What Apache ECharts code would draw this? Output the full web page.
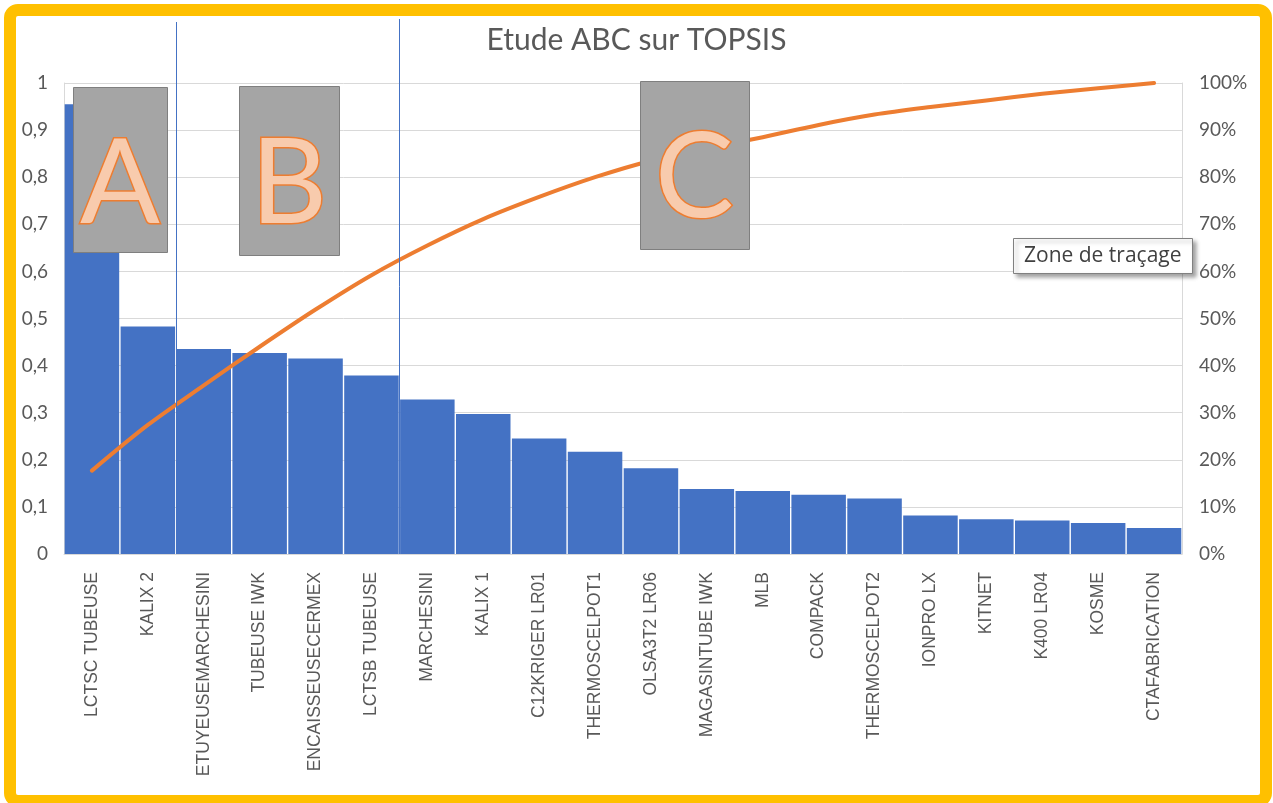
<!DOCTYPE html>
<html>
<head>
<meta charset="utf-8">
<script src="https://cdn.jsdelivr.net/npm/echarts@6/dist/echarts.min.js"></script>
<style>
  html, body { margin: 0; padding: 0; background: #ffffff; }
  #chart { width: 1273px; height: 803px; }
</style>
</head>
<body>
<div id="chart"></div>
<script>
// Equipment ranked by TOPSIS score
const categories = [
  'LCTSC TUBEUSE', 'KALIX 2', 'ETUYEUSEMARCHESINI', 'TUBEUSE IWK', 'ENCAISSEUSECERMEX',
  'LCTSB TUBEUSE', 'MARCHESINI', 'KALIX 1', 'C12KRIGER LR01', 'THERMOSCELPOT1',
  'OLSA3T2 LR06', 'MAGASINTUBE IWK', 'MLB', 'COMPACK', 'THERMOSCELPOT2',
  'IONPRO LX', 'KITNET', 'K400 LR04', 'KOSME', 'CTAFABRICATION'
];

// TOPSIS score per equipment (bars, left axis)
const scores = [
  0.955, 0.483, 0.435, 0.427, 0.415,
  0.379, 0.328, 0.297, 0.245, 0.217,
  0.182, 0.138, 0.134, 0.126, 0.118,
  0.082, 0.074, 0.071, 0.066, 0.055
];

// Cumulative share of the total score, in % (line, right axis)
const cumulativePct = [
  17.7, 27.4, 35.8, 44.0, 51.9,
  59.2, 65.5, 71.1, 75.8, 80.0,
  83.5, 86.1, 88.5, 91.1, 93.3,
  94.9, 96.3, 97.7, 98.9, 100
];

// Left axis ticks 0..1, right axis ticks 0..100 %
const scoreTicks = { min: 0, max: 1, step: 0.1 };
const pctTicks = { min: 0, max: 100, step: 10 };

// Last category of zones A and B (separator drawn right after each)
const zoneEnds = ['KALIX 2', 'LCTSB TUBEUSE'];

const chart = echarts.init(document.getElementById('chart'), null, { renderer: 'canvas' });

const gray = '#595959';
const gridLine = '#d9d9d9';

const option = {
  backgroundColor: '#ffffff',
  animation: false,
  title: {
    text: 'Etude ABC sur TOPSIS',
    left: 'center',
    top: 20,
    textStyle: { fontFamily: 'Lato', fontSize: 30, fontWeight: 'normal', color: gray }
  },
  grid: { left: 64, right: 91, top: 83, bottom: 249, containLabel: false },
  xAxis: {
    type: 'category',
    data: categories,
    axisLine: { show: true, lineStyle: { color: gridLine, width: 1 } },
    axisTick: { show: false },
    axisLabel: {
      rotate: 90,
      margin: 18,
      interval: 0,
      fontFamily: 'Liberation Sans',
      fontSize: 17.5,
      color: gray
    }
  },
  yAxis: [
    {
      type: 'value',
      min: scoreTicks.min,
      max: scoreTicks.max,
      interval: scoreTicks.step,
      axisLine: { show: true, lineStyle: { color: gridLine } },
      axisTick: { show: false },
      splitLine: { lineStyle: { color: gridLine, width: 1 } },
      axisLabel: {
        margin: 16,
        fontFamily: 'Lato',
        fontSize: 19,
        color: gray,
        formatter: v => String(+v.toFixed(1)).replace('.', ',')
      }
    },
    {
      type: 'value',
      position: 'right',
      min: pctTicks.min,
      max: pctTicks.max,
      interval: pctTicks.step,
      axisLine: { show: true, lineStyle: { color: gridLine } },
      axisTick: { show: false },
      splitLine: { show: false },
      axisLabel: {
        margin: 17,
        fontFamily: 'Lato',
        fontSize: 19,
        color: gray,
        formatter: '{value}%'
      }
    }
  ],
  series: [
    {
      name: 'Score TOPSIS',
      type: 'bar',
      data: scores,
      yAxisIndex: 0,
      barCategoryGap: '2.5%',
      itemStyle: { color: '#4472c4' },
      z: 2
    },
    {
      name: 'Cumul %',
      type: 'line',
      data: cumulativePct,
      yAxisIndex: 1,
      smooth: 0.3,
      showSymbol: false,
      symbol: 'none',
      lineStyle: { color: '#ed7d31', width: 4, cap: 'round', join: 'round' },
      z: 3
    }
  ]
};

chart.setOption(option);

// Zone separators between categories, boxed zone letters, border and hover tag
function drawOverlay() {
  const bottomY = chart.convertToPixel({ yAxisIndex: 0 }, 0);
  const tops = [22, 19];
  const separators = zoneEnds.map((name, i) => {
    const idx = categories.indexOf(name);
    const a = chart.convertToPixel({ xAxisIndex: 0 }, idx);
    const b = chart.convertToPixel({ xAxisIndex: 0 }, idx + 1);
    const x = Math.round((a + b) / 2) + 0.5;
    return {
      type: 'line',
      shape: { x1: x, y1: tops[i], x2: x, y2: bottomY },
      style: { stroke: '#4472c4', lineWidth: 1 },
      z: 10
    };
  });

  // textTop is the top of the glyph line box; Lato caps start ~11px lower at this size
  const zoneBox = (letter, x, y, w, h, textTop) => ({
    type: 'group',
    z: 20,
    children: [
      {
        type: 'rect',
        shape: { x: x + 0.5, y: y + 0.5, width: w, height: h },
        style: { fill: '#a5a5a5', stroke: '#7f7f7f', lineWidth: 1 },
        z: 20
      },
      {
        type: 'text',
        x: x + w / 2,
        y: textTop,
        style: {
          text: letter,
          fontFamily: 'Lato',
          fontSize: 118,
          fill: '#f8cbad',
          stroke: '#ed7d31',
          lineWidth: 3,
          align: 'center',
          verticalAlign: 'top'
        },
        z: 21
      }
    ]
  });

  chart.setOption({
    graphic: [
      {
        type: 'rect',
        shape: { x: 10, y: 10, width: 1256, height: 791, r: 8 },
        style: { fill: 'none', stroke: '#ffc000', lineWidth: 12 },
        z: 30
      },
      ...separators,
      zoneBox('A', 73, 87, 94, 165, 126),
      zoneBox('B', 239, 86, 100, 169, 126),
      zoneBox('C', 640, 81, 109, 168, 120),
      {
        type: 'group',
        z: 25,
        children: [
          {
            type: 'rect',
            shape: { x: 1013.5, y: 238.5, width: 179, height: 35 },
            style: {
              fill: '#ffffff',
              stroke: '#808080',
              lineWidth: 1,
              shadowColor: 'rgba(0,0,0,0.35)',
              shadowBlur: 4,
              shadowOffsetX: 3,
              shadowOffsetY: 3
            },
            z: 25
          },
          {
            type: 'text',
            x: 1024,
            y: 256,
            style: {
              text: 'Zone de traçage',
              fontFamily: 'Open Sans',
              fontSize: 21,
              fill: '#404040',
              verticalAlign: 'middle'
            },
            z: 26
          }
        ]
      }
    ]
  });
}

drawOverlay();
</script>
</body>
</html>
